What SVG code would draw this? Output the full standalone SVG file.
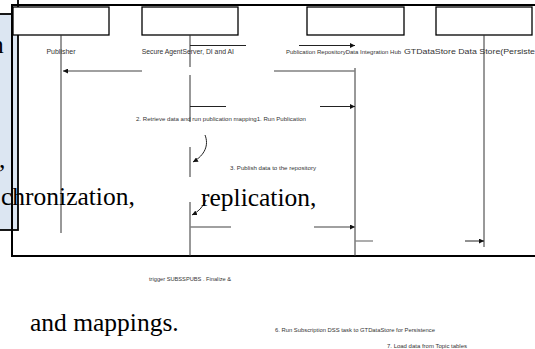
<svg xmlns="http://www.w3.org/2000/svg" width="535" height="349" viewBox="0 0 535 349">
<style>
.box{fill:#fff;stroke:#000;stroke-width:1.3}
.lbl{font-family:"Liberation Sans",Arial,sans-serif;font-size:7px;fill:#333}
.msg{font-family:"Liberation Sans",Arial,sans-serif;font-size:5.3px;fill:#333}
.big{font-family:"Liberation Serif","Times New Roman",serif;font-size:25.5px;fill:#000}
.life{stroke:#333;stroke-width:1;fill:none}
.c{stroke:#222;stroke-width:1;fill:none}
.g{stroke:#808080;stroke-width:1.3;fill:none}
</style>
<defs>
<marker id="ah" viewBox="0 0 6 6" refX="6" refY="3" markerWidth="5" markerHeight="5" markerUnits="userSpaceOnUse" orient="auto">
<path d="M0,0 L6,3 L0,6 Z" fill="#111"/>
</marker>
</defs>
<rect width="535" height="349" fill="#fff"/>
<g id="note">
<rect x="-6" y="14" width="24" height="216" fill="#dce6f2" stroke="#000" stroke-width="1.8"/>
<line x1="18" y1="0" x2="18" y2="14" stroke="#000" stroke-width="1.8"/>
</g>
<g id="frame">
<path d="M11,5 H535 M12,5 V256 H535" fill="none" stroke="#000" stroke-width="2"/>
</g>
<g id="publisher">
<rect class="box" x="13" y="7" width="96" height="28"/>
<line class="life" x1="61" y1="35" x2="61" y2="233" stroke="#555"/>
<text class="lbl" x="61" y="53.5" text-anchor="middle">Publisher</text>
</g>
<g id="secure-agent">
<rect class="box" x="142" y="7" width="96" height="28"/>
<path class="life" d="M190,35 V67 M190,75 V122 M190,147 V177 M190,202 V256"/>
<text class="lbl" x="141.7" y="53.5" style="font-size:6.8px">Secure AgentServer, DI and AI</text>
</g>
<g id="publication-repository">
<rect class="box" x="307" y="7" width="97" height="28"/>
<line class="life" x1="355" y1="68" x2="355" y2="256"/>
<text class="lbl" x="286" y="53.5" style="font-size:6px">Publication RepositoryData Integration Hub</text>
</g>
<g id="gtdatastore">
<rect class="box" x="436" y="7" width="96" height="28"/>
<line class="life" x1="484" y1="35" x2="484" y2="247" stroke="#000"/>
<text class="lbl" x="404" y="53.5" style="font-size:7.6px" textLength="131" lengthAdjust="spacingAndGlyphs">GTDataStore Data Store(Persiste</text>
</g>
<g id="connectors">
<line class="c" x1="190" y1="45.5" x2="246" y2="45.5" stroke="#555"/>
<line class="c" x1="299" y1="45.5" x2="355" y2="45.5" marker-end="url(#ah)"/>
<line class="g" x1="142" y1="71" x2="63" y2="71" marker-end="url(#ah)"/>
<line class="g" x1="274" y1="71" x2="355" y2="71"/>
<line class="c" x1="190" y1="106.5" x2="226" y2="106.5"/>
<line class="c" x1="320" y1="106.5" x2="355" y2="106.5" marker-end="url(#ah)"/>
<path class="c" d="M205,135 C209,145 205,155 193,162" marker-end="url(#ah)"/>
<path class="c" d="M206,200 C203,207 198,212 192,215" marker-end="url(#ah)"/>
<line class="g" x1="190" y1="227" x2="231" y2="227"/>
<line class="g" x1="314" y1="227" x2="355" y2="227" marker-end="url(#ah)"/>
<line class="g" x1="355" y1="241" x2="373" y2="241"/>
<line class="c" x1="465" y1="241" x2="484" y2="241" marker-end="url(#ah)"/>
</g>
<g id="labels">
<text class="msg" x="136" y="121" textLength="170" lengthAdjust="spacingAndGlyphs">2. Retrieve data and run publication mapping1. Run Publication</text>
<text class="msg" x="230" y="170" textLength="86" lengthAdjust="spacingAndGlyphs">3. Publish data to the repository</text>
<text class="msg" x="149" y="281" textLength="82" lengthAdjust="spacingAndGlyphs">trigger SUBSSPUBS . Finalize &amp;</text>
<text class="msg" x="275" y="332" textLength="160" lengthAdjust="spacingAndGlyphs">6. Run Subscription DSS task to GTDataStore for Persistence</text>
<text class="msg" x="387" y="347.7" textLength="80" lengthAdjust="spacingAndGlyphs">7. Load data from Topic tables</text>
</g>
<g id="overflow-text">
<text class="big" x="-9" y="53">n</text>
<text class="big" x="-1" y="168">,</text>
<text class="big" x="1" y="205">chronization,</text>
<text class="big" x="201" y="205.5">replication,</text>
<text class="big" x="30" y="330.5">and mappings.</text>
</g>
</svg>
